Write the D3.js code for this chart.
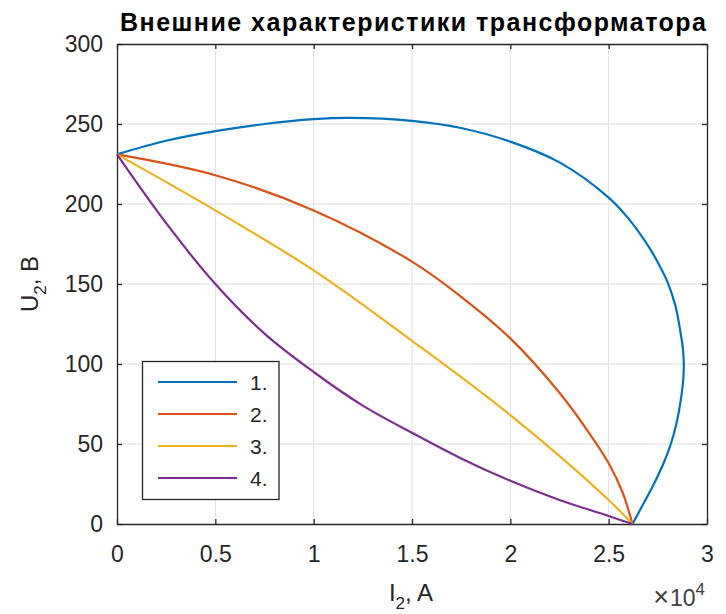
<!DOCTYPE html>
<html>
<head>
<meta charset="utf-8">
<script src="https://cdn.jsdelivr.net/npm/d3@7"></script>
<style>
html,body{margin:0;padding:0;background:#fff;}
svg{display:block;font-family:"Liberation Sans",Arial,Helvetica,sans-serif;}
</style>
</head>
<body>
<svg id="chart" width="726" height="614"></svg>
<script>
const titleText = "Внешние характеристики трансформатора";
const seriesNames = ["1.", "2.", "3.", "4."];
const seriesColors = ["#0072BD", "#D95319", "#EDB120", "#7E2F8E"];
const xTicks = [0, 5000, 10000, 15000, 20000, 25000, 30000];
const yTicks = [0, 50, 100, 150, 200, 250, 300];

// [I2, U2]
const curve1 = [[0,231],[2500,239.5],[5000,245.5],[7500,250],[10000,253],[11800,253.8],[15000,252],[17500,247.5],[20000,239],[22500,226],[25000,204],[26000,191],[27000,174],[27500,163.5],[28000,151],[28400,136],[28650,120],[28770,110],[28820,100],[28790,90],[28660,77],[28450,63],[28160,50],[27760,37],[27300,25],[26760,12.5],[26210,0]];
const curve2 = [[0,231],[5000,218],[10000,196],[15000,164],[17500,142],[20000,116],[22500,82],[24000,57],[25000,38],[25700,20],[26210,0]];
const curve3 = [[0,231],[5000,196],[10000,158.5],[15000,114.5],[20000,68],[25000,15],[26210,0]];
const curve4 = [[0,231],[2500,188],[5000,150],[7500,119],[10000,95],[12500,74],[15000,57],[17500,41],[20000,27],[22500,15],[25000,5],[26210,0]];
const curves = [curve1, curve2, curve3, curve4];

const svg = d3.select("#chart");
const L = 117, R = 707, T = 44, B = 524;
const x = d3.scaleLinear().domain([0, 30000]).range([L, R]);
const y = d3.scaleLinear().domain([0, 300]).range([B, T]);
const axisColor = "#262626";
const fontFam = '"Liberation Sans",Arial,sans-serif';

// grid
svg.append("g").selectAll("line").data(xTicks.slice(1, -1)).join("line")
  .attr("x1", d => x(d)).attr("x2", d => x(d)).attr("y1", T).attr("y2", B)
  .attr("stroke", "#e0e0e0").attr("stroke-width", 1);
svg.append("g").selectAll("line").data(yTicks.slice(1, -1)).join("line")
  .attr("y1", d => y(d)).attr("y2", d => y(d)).attr("x1", L).attr("x2", R)
  .attr("stroke", "#e0e0e0").attr("stroke-width", 1);

// axes
const fmtX = d => d3.format("~g")(d / 10000);
const gx = svg.append("g").attr("transform", `translate(0,${B})`)
  .call(d3.axisBottom(x).tickValues(xTicks).tickFormat(fmtX).tickSizeInner(-5).tickSizeOuter(0).tickPadding(22));
const gxt = svg.append("g").attr("transform", `translate(0,${T})`)
  .call(d3.axisTop(x).tickValues(xTicks).tickFormat("").tickSizeInner(-5).tickSizeOuter(0));
const gy = svg.append("g").attr("transform", `translate(${L},0)`)
  .call(d3.axisLeft(y).tickValues(yTicks).tickSizeInner(-5).tickSizeOuter(0).tickPadding(14));
const gyr = svg.append("g").attr("transform", `translate(${R},0)`)
  .call(d3.axisRight(y).tickValues(yTicks).tickFormat("").tickSizeInner(-5).tickSizeOuter(0));
[gx, gxt, gy, gyr].forEach(g => {
  g.select(".domain").attr("stroke", axisColor).attr("stroke-width", 1.3);
  g.selectAll(".tick line").attr("stroke", axisColor).attr("stroke-width", 1.3);
  g.selectAll(".tick text").attr("fill", axisColor).style("font-size", "23px")
    .style("font-family", fontFam);
});

// curves
const line = d3.line().x(d => x(d[0])).y(d => y(d[1])).curve(d3.curveCatmullRom.alpha(0.5));
svg.append("g").selectAll("path").data(curves).join("path")
  .attr("d", d => line(d)).attr("fill", "none")
  .attr("stroke", (d, i) => seriesColors[i]).attr("stroke-width", 2.2)
  .attr("stroke-linejoin", "round");

// title
svg.append("text").attr("x", (L + R) / 2 + 1).attr("y", 31).attr("text-anchor", "middle")
  .attr("fill", "#000").style("font-size", "25px").style("font-weight", "bold")
  .attr("textLength", 586).attr("lengthAdjust", "spacing")
  .text(titleText);

// axis labels
const xl = svg.append("text").attr("x", 411).attr("y", 601).attr("text-anchor", "middle")
  .attr("fill", axisColor).style("font-size", "24px");
xl.append("tspan").text("I");
xl.append("tspan").attr("dy", 8).style("font-size", "17px").text("2");
xl.append("tspan").attr("dy", -8).text(", A");

const yl = svg.append("text").attr("transform", `translate(38,${(T + B) / 2}) rotate(-90)`)
  .attr("text-anchor", "middle").attr("fill", axisColor).style("font-size", "24px");
yl.append("tspan").text("U");
yl.append("tspan").attr("dy", 8).style("font-size", "17px").text("2");
yl.append("tspan").attr("dy", -8).text(", B");

// exponent label
const ex = svg.append("text").attr("x", 705).attr("y", 606).attr("text-anchor", "end")
  .attr("fill", "#404040").style("font-size", "23px");
ex.append("tspan").style("font-size", "27px").style("font-weight", "300").text("×");
ex.append("tspan").attr("dx", 1).text("10");
ex.append("tspan").attr("dy", -11).style("font-size", "17px").text("4");

// legend
const lg = svg.append("g");
lg.append("rect").attr("x", 142.5).attr("y", 361.5).attr("width", 136.5).attr("height", 138)
  .attr("fill", "#fff").attr("stroke", axisColor).attr("stroke-width", 1.3);
seriesNames.forEach((n, i) => {
  const yy = 382 + i * 32;
  lg.append("line").attr("x1", 158).attr("x2", 237).attr("y1", yy).attr("y2", yy)
    .attr("stroke", seriesColors[i]).attr("stroke-width", 2.2);
  lg.append("text").attr("x", 250).attr("y", yy + 8).attr("fill", axisColor)
    .style("font-size", "21px").text(n);
});
</script>
</body>
</html>
